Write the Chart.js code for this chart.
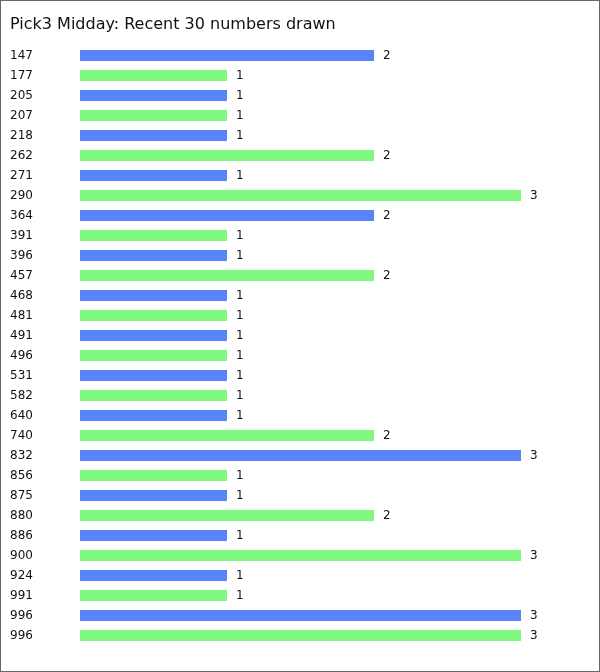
<!DOCTYPE html>
<html><head><meta charset="utf-8">
<script src="https://cdn.jsdelivr.net/npm/chart.js@4"></script>
<style>
html,body{margin:0;padding:0;background:#fff;}
#wrap{position:relative;width:600px;height:672px;}
#frame{position:absolute;left:0;top:0;width:600px;height:672px;box-sizing:border-box;border:1px solid #666;pointer-events:none;}
canvas{position:absolute;left:0;top:0;}
</style></head>
<body>
<div id="wrap"><canvas id="c" width="600" height="672"></canvas><div id="frame"></div></div>
<script>
const titleText = "Pick3 Midday: Recent 30 numbers drawn";
const numbers = ["147","177","205","207","218","262","271","290","364","391","396","457","468","481","491","496","531","582","640","740","832","856","875","880","886","900","924","991","996","996"];
const timesDrawn = [2,1,1,1,1,2,1,3,2,1,1,2,1,1,1,1,1,1,1,2,3,1,1,2,1,3,1,1,3,3];
const palette = ["#5884f8", "#80f880"];

Chart.defaults.font.family = "'DejaVu Sans', Verdana, sans-serif";
Chart.defaults.color = "#111";

const valueLabels = {
  id: 'valueLabels',
  afterDatasetsDraw(chart) {
    const ctx = chart.ctx;
    const meta = chart.getDatasetMeta(0);
    ctx.save();
    ctx.font = "12px 'DejaVu Sans', Verdana, sans-serif";
    ctx.fillStyle = "#111";
    ctx.textAlign = "left";
    ctx.textBaseline = "middle";
    meta.data.forEach((bar, i) => {
      ctx.fillText(String(timesDrawn[i]), bar.x + 9, bar.y);
    });
    ctx.restore();
  }
};

new Chart(document.getElementById('c'), {
  type: 'bar',
  data: {
    labels: numbers,
    datasets: [{
      data: timesDrawn,
      backgroundColor: numbers.map((_, i) => palette[i % 2]),
      barPercentage: 0.55,
      categoryPercentage: 1.0
    }]
  },
  options: {
    indexAxis: 'y',
    responsive: false,
    animation: false,
    layout: { padding: { left: 10, right: 79, top: 0, bottom: 26.5 } },
    plugins: {
      legend: { display: false },
      tooltip: { enabled: false },
      title: {
        display: true,
        text: titleText,
        align: 'start',
        color: '#111',
        font: { size: 16, weight: 'normal' },
        padding: { top: 14.9, bottom: 11.4 }
      }
    },
    scales: {
      x: { display: false, min: 0, max: 3 },
      y: {
        grid: { display: false },
        border: { display: false },
        ticks: { crossAlign: 'far', font: { size: 12 }, color: '#111', padding: 0 },
        afterFit(scale) { scale.width = 70; }
      }
    }
  },
  plugins: [valueLabels]
});
</script>
</body></html>
